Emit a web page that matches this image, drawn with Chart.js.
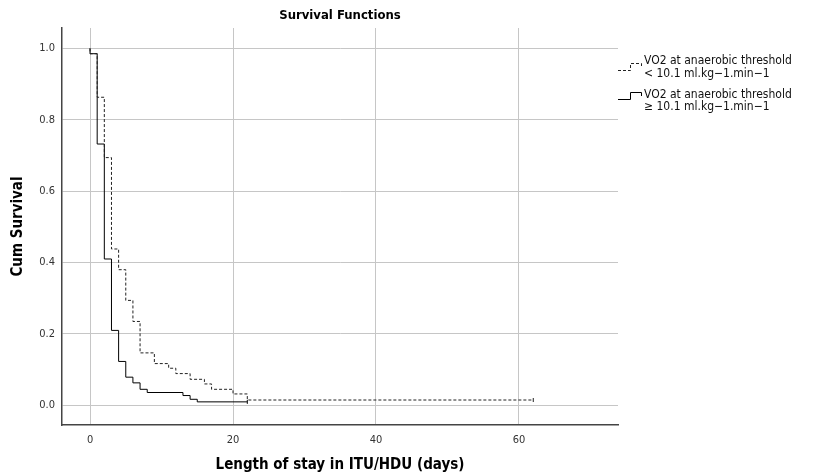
<!DOCTYPE html>
<html lang="en">
<head>
  <meta charset="UTF-8">
  <title>Survival Functions</title>
  <style>
    body {
      margin: 0;
      background: #fff;
    }
    #wrap {
      position: relative;
      width: 816px;
      height: 475px;
    }
  </style>
  <script src="https://cdn.jsdelivr.net/npm/chart.js"></script>
</head>
<body>
  <div id="wrap">
    <canvas id="survChart" width="816" height="475"></canvas>
  </div>

  <script>
    // Kaplan-Meier steps
    const lowTimes = [0, 0, 1, 2, 3, 4, 5, 6, 7, 9, 11, 12, 14, 16, 17, 20, 22, 62];
    const lowSurv = [1, 0.985, 0.863, 0.694, 0.438, 0.38, 0.294, 0.235, 0.147, 0.117, 0.104, 0.089, 0.073, 0.060, 0.045, 0.032, 0.015, 0.015];
    const highTimes = [0, 0, 1, 2, 3, 4, 5, 6, 7, 8, 13, 14, 15, 22];
    const highSurv = [1, 0.985, 0.732, 0.41, 0.21, 0.123, 0.079, 0.063, 0.045, 0.036, 0.0275, 0.017, 0.0098, 0.0098];

    // censored cases at the end of each curve
    const lowCensorTime = [62];
    const lowCensorSurv = [0.015];
    const highCensorTime = [22];
    const highCensorSurv = [0.0098];

    const xTicks = [0, 20, 40, 60];
    const yTicks = [0, 0.2, 0.4, 0.6, 0.8, 1.0];

    const legendLabels = [
      ['VO2 at anaerobic threshold', '< 10.1 ml.kg\u22121.min\u22121'],
      ['VO2 at anaerobic threshold', '\u2265 10.1 ml.kg\u22121.min\u22121']
    ];

    const FONT = '"DejaVu Sans Condensed", "DejaVu Sans", sans-serif';

    function toPoints(xs, ys) {
      return xs.map((x, i) => ({ x: x, y: ys[i] }));
    }

    // title + legend drawn by hand, SPSS style
    const extras = {
      id: 'extras',
      afterDraw(chart) {
        const ctx = chart.ctx;
        const area = chart.chartArea;
        ctx.save();

        ctx.fillStyle = '#000';
        ctx.font = 'bold 13px ' + FONT;
        ctx.textAlign = 'center';
        ctx.textBaseline = 'middle';
        ctx.fillText('Survival Functions', (area.left + area.right) / 2, 16);

        // legend icons
        ctx.strokeStyle = '#222';
        ctx.lineWidth = 1;
        ctx.setLineDash([3, 2]);
        ctx.beginPath();
        ctx.moveTo(618, 70.5);
        ctx.lineTo(630.5, 70.5);
        ctx.lineTo(630.5, 63.5);
        ctx.lineTo(641.5, 63.5);
        ctx.lineTo(641.5, 67);
        ctx.stroke();

        ctx.setLineDash([]);
        ctx.strokeStyle = '#000';
        ctx.beginPath();
        ctx.moveTo(618, 99.5);
        ctx.lineTo(630.5, 99.5);
        ctx.lineTo(630.5, 92.5);
        ctx.lineTo(641.5, 92.5);
        ctx.lineTo(641.5, 96);
        ctx.stroke();

        ctx.fillStyle = '#111';
        ctx.font = '12px ' + FONT;
        ctx.textAlign = 'left';
        const rows = [[61, 74], [95, 107]];
        legendLabels.forEach((lines, i) => {
          lines.forEach((t, j) => ctx.fillText(t, 644, rows[i][j]));
        });

        ctx.restore();
      }
    };

    const ctx = document.getElementById('survChart').getContext('2d');
    new Chart(ctx, {
      type: 'line',
      data: {
        datasets: [
          {
            label: legendLabels[0].join(' '),
            data: toPoints(lowTimes, lowSurv),
            borderColor: '#222',
            borderWidth: 1,
            borderDash: [3, 2],
            stepped: 'before',
            pointRadius: 0,
            fill: false
          },
          {
            label: legendLabels[1].join(' '),
            data: toPoints(highTimes, highSurv),
            borderColor: '#000',
            borderWidth: 1,
            stepped: 'before',
            pointRadius: 0,
            fill: false
          },
          {
            type: 'scatter',
            label: 'censored low',
            data: toPoints(lowCensorTime, lowCensorSurv),
            pointStyle: 'line',
            rotation: 90,
            pointRadius: 2,
            borderColor: '#222',
            borderWidth: 1
          },
          {
            type: 'scatter',
            label: 'censored high',
            data: toPoints(highCensorTime, highCensorSurv),
            pointStyle: 'line',
            rotation: 90,
            pointRadius: 2,
            borderColor: '#000',
            borderWidth: 1
          }
        ]
      },
      options: {
        responsive: false,
        animation: false,
        layout: {
          padding: { left: 0, right: 198, top: 28, bottom: 0 }
        },
        plugins: {
          legend: { display: false },
          tooltip: { enabled: false }
        },
        scales: {
          x: {
            type: 'linear',
            min: -3.92,
            max: 73.85,
            afterBuildTicks: s => { s.ticks = xTicks.map(v => ({ value: v })); },
            afterFit: s => { s.height = 50; },
            grid: { color: '#c6c6c6', drawTicks: false },
            border: { color: '#444', width: 1.5 },
            ticks: {
              font: { family: FONT, size: 11 },
              color: '#333',
              padding: 9,
              maxRotation: 0
            },
            title: {
              display: true,
              text: 'Length of stay in ITU/HDU (days)',
              font: { family: FONT, size: 15, weight: 'bold' },
              color: '#000',
              padding: { top: 0, bottom: 1 }
            }
          },
          y: {
            type: 'linear',
            min: -0.055,
            max: 1.057,
            afterBuildTicks: s => { s.ticks = yTicks.map(v => ({ value: v })); },
            afterFit: s => { s.width = 62; },
            grid: { color: '#c6c6c6', drawTicks: false },
            border: { color: '#444', width: 1.5 },
            ticks: {
              font: { family: FONT, size: 11 },
              color: '#333',
              padding: 7,
              callback: v => v.toFixed(1)
            },
            title: {
              display: true,
              text: 'Cum Survival',
              font: { family: FONT, size: 15, weight: 'bold' },
              color: '#000',
              padding: { top: 9, bottom: 0 }
            }
          }
        }
      },
      plugins: [extras]
    });
  </script>
</body>
</html>
